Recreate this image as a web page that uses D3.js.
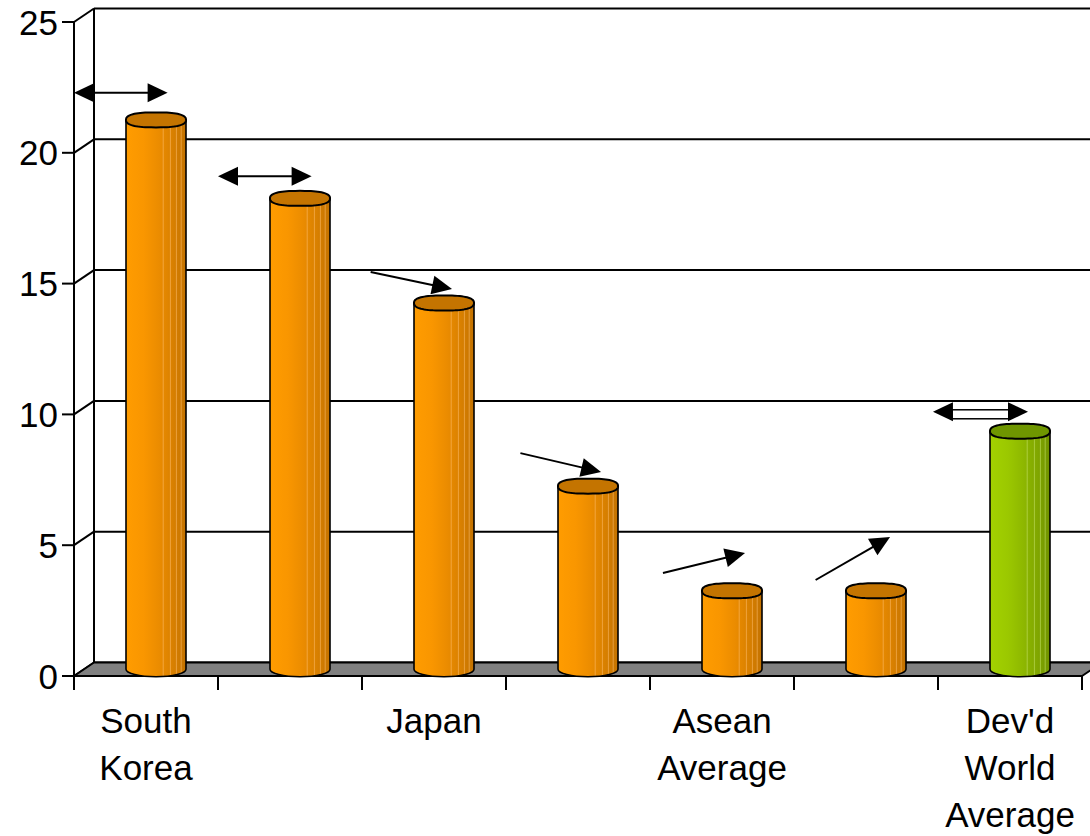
<!DOCTYPE html>
<html>
<head>
<meta charset="utf-8">
<script src="https://cdn.jsdelivr.net/npm/d3@7"></script>
<style>
  html, body { margin: 0; padding: 0; background: #fff; }
  svg { display: block; }
  text { font-family: "Liberation Sans", Arial, sans-serif; fill: #000; }
</style>
</head>
<body>
<svg id="chart" width="1090" height="836"></svg>
<script>
// Category labels (some categories carry no visible label), one array per line set
const categoryLabels = [["South", "Korea"], [], ["Japan"], [], ["Asean", "Average"], [], ["Dev'd", "World", "Average"]];
// Bar values
const values = [21, 18, 14, 7, 3, 3, 9.1];
// Which bar is the benchmark (drawn green)
const highlight = [false, false, false, false, false, false, true];
// Y axis ticks
const yTicks = [0, 5, 10, 15, 20, 25];
// Trend arrows: kind, start/end as fraction of the category slot, start/end value
const arrowKind = ["both", "both", "single", "single", "single", "single", "hollow"];
const arrowFrom = [0.0, 0.0, 0.06, 0.10, 0.09, 0.15, -0.035];
const arrowTo = [0.65, 0.65, 0.625, 0.66, 0.66, 0.667, 0.625];
const arrowFromVal = [22.3, 19.1, 15.44, 8.52, 3.94, 3.67, 10.1];
const arrowToVal = [22.3, 19.1, 14.79, 7.80, 4.70, 5.31, 10.1];

const W = 1090, H = 836;
const svg = d3.select("#chart");
const defs = svg.append("defs");

// front plane of the 3D box
const left = 74, right = 1082;
const depthX = 20, depthY = -13.5;

const y = d3.scaleLinear().domain([0, 25]).range([676, 22]);
const x = d3.scaleBand().domain(d3.range(values.length)).range([left, right]).padding(0);
const bw = x.bandwidth();

// gradients for the cylinder bodies
function makeGrad(id, stops) {
  const g = defs.append("linearGradient").attr("id", id).attr("x1", "0%").attr("x2", "100%").attr("y1", "0%").attr("y2", "0%");
  stops.forEach(s => g.append("stop").attr("offset", s[0]).attr("stop-color", s[1]));
}
makeGrad("orangeBody", [[0, "#FF9C00"], [0.3, "#F99600"], [0.55, "#EB8C00"], [0.8, "#D77F00"], [1, "#C37200"]]);
makeGrad("greenBody", [[0, "#A3D200"], [0.3, "#9BC800"], [0.55, "#8EB800"], [0.8, "#80A600"], [1, "#709200"]]);

const g = svg.append("g");

// back wall gridlines
g.selectAll(".grid").data(yTicks).join("line")
  .attr("x1", left + depthX).attr("x2", W + 20)
  .attr("y1", d => y(d) + depthY).attr("y2", d => y(d) + depthY)
  .attr("stroke", "#000").attr("stroke-width", 2);

// side wall diagonals
g.selectAll(".side").data(yTicks).join("line")
  .attr("x1", left).attr("x2", left + depthX)
  .attr("y1", d => y(d)).attr("y2", d => y(d) + depthY)
  .attr("stroke", "#000").attr("stroke-width", 2);

// back wall left edge
g.append("line")
  .attr("x1", left + depthX).attr("x2", left + depthX)
  .attr("y1", y(25) + depthY).attr("y2", y(0) + depthY)
  .attr("stroke", "#000").attr("stroke-width", 2);

// floor
g.append("path")
  .attr("d", `M${left},${y(0)} L${left + depthX},${y(0) + depthY} L${right + depthX},${y(0) + depthY} L${right},${y(0)} Z`)
  .attr("fill", "#808080").attr("stroke", "#000").attr("stroke-width", 2).attr("stroke-linejoin", "round");

// front value axis
g.append("line").attr("x1", left).attr("x2", left).attr("y1", y(25)).attr("y2", y(0))
  .attr("stroke", "#000").attr("stroke-width", 2);
g.selectAll(".ytick").data(yTicks).join("line")
  .attr("x1", left - 12).attr("x2", left)
  .attr("y1", d => y(d)).attr("y2", d => y(d))
  .attr("stroke", "#000").attr("stroke-width", 2);
g.selectAll(".ylab").data(yTicks).join("text")
  .attr("x", 58).attr("y", d => y(d)).attr("dy", "0.36em")
  .attr("text-anchor", "end").attr("font-size", 35)
  .text(d => d);

// category axis
g.append("line").attr("x1", left).attr("x2", right).attr("y1", y(0)).attr("y2", y(0))
  .attr("stroke", "#000").attr("stroke-width", 2);
const catEdges = d3.range(values.length + 1).map(i => left + i * bw);
g.selectAll(".xtick").data(catEdges).join("line")
  .attr("x1", d => d).attr("x2", d => d)
  .attr("y1", y(0)).attr("y2", y(0) + 14)
  .attr("stroke", "#000").attr("stroke-width", 2);

const labG = g.append("g");
categoryLabels.forEach((lines, i) => {
  lines.forEach((ln, j) => {
    labG.append("text")
      .attr("x", x(i) + bw / 2)
      .attr("y", 733 + j * 47)
      .attr("text-anchor", "middle")
      .attr("font-size", 35)
      .text(ln);
  });
});

// cylinders
const rx = 30, ry = 7.5;
function capPath(cx, cy) {
  const pts = [];
  for (let k = 0; k <= 72; k++) {
    const t = (k / 72) * Math.PI * 2;
    const c = Math.cos(t), s = Math.sin(t);
    const px = cx + rx * Math.sign(c) * Math.pow(Math.abs(c), 0.75);
    const py = cy + ry * Math.sign(s) * Math.pow(Math.abs(s), 0.8);
    pts.push([px, py]);
  }
  return d3.line().curve(d3.curveLinearClosed)(pts);
}

values.forEach((v, i) => {
  const cx = x(i) + bw / 2 + depthX / 2;
  const topY = y(v) + depthY / 2;
  const botY = y(0) + depthY / 2;
  const bar = g.append("g");
  const body = `M${cx - rx},${topY} L${cx - rx},${botY} A${rx},${ry} 0 0 0 ${cx + rx},${botY} L${cx + rx},${topY} Z`;
  const clipId = "clip" + i;
  defs.append("clipPath").attr("id", clipId).append("path").attr("d", body);
  bar.append("path").attr("d", body)
    .attr("fill", highlight[i] ? "url(#greenBody)" : "url(#orangeBody)");
  // faint vertical facet lines
  const stripes = bar.append("g").attr("clip-path", `url(#${clipId})`);
  [0.62, 0.74, 0.84, 0.92].forEach(f => {
    stripes.append("line")
      .attr("x1", cx - rx + f * 2 * rx).attr("x2", cx - rx + f * 2 * rx)
      .attr("y1", topY).attr("y2", botY + ry)
      .attr("stroke", highlight[i] ? "#C8E870" : "#FFC070")
      .attr("stroke-opacity", 0.55).attr("stroke-width", 1);
  });
  bar.append("path").attr("d", body).attr("fill", "none")
    .attr("stroke", "#000").attr("stroke-width", 1.6);
  bar.append("path").attr("d", capPath(cx, topY))
    .attr("fill", highlight[i] ? "#6F9600" : "#C47400")
    .attr("stroke", "#000").attr("stroke-width", 2);
});

// trend arrows
const headLen = 20, headHalf = 9.5;
function head(tipX, tipY, ux, uy) {
  const bx = tipX - ux * headLen, by = tipY - uy * headLen;
  const nx = -uy, ny = ux;
  return `M${tipX},${tipY} L${bx + nx * headHalf},${by + ny * headHalf} L${bx - nx * headHalf},${by - ny * headHalf} Z`;
}
arrowKind.forEach((kind, i) => {
  const x0 = x(i) + arrowFrom[i] * bw, y0 = y(arrowFromVal[i]);
  const x1 = x(i) + arrowTo[i] * bw, y1 = y(arrowToVal[i]);
  const len = Math.hypot(x1 - x0, y1 - y0);
  const ux = (x1 - x0) / len, uy = (y1 - y0) / len;
  const ag = g.append("g");
  const sx = kind === "single" ? x0 : x0 + ux * (headLen - 1);
  const sy = kind === "single" ? y0 : y0 + uy * (headLen - 1);
  const ex = x1 - ux * (headLen - 1), ey = y1 - uy * (headLen - 1);
  if (kind === "hollow") {
    ag.append("rect")
      .attr("x", sx).attr("y", sy - 2).attr("width", ex - sx).attr("height", 9)
      .attr("fill", "#fff").attr("stroke", "#000").attr("stroke-width", 1.5);
  } else {
    ag.append("line").attr("x1", sx).attr("y1", sy).attr("x2", ex).attr("y2", ey)
      .attr("stroke", "#000").attr("stroke-width", 2);
  }
  ag.append("path").attr("d", head(x1, y1, ux, uy)).attr("fill", "#000");
  if (kind !== "single") ag.append("path").attr("d", head(x0, y0, -ux, -uy)).attr("fill", "#000");
});
</script>
</body>
</html>
